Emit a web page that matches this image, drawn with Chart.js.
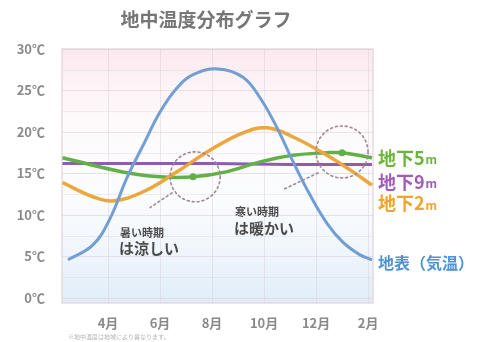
<!DOCTYPE html>
<html lang="ja">
<head>
<meta charset="utf-8">
<title>地中温度分布グラフ</title>
<script src="https://cdn.jsdelivr.net/npm/chart.js@4.4.1/dist/chart.umd.min.js"></script>
<style>
  html, body { margin: 0; padding: 0; background: #ffffff; }
  #wrap { width: 480px; height: 342px; position: relative; }
</style>
</head>
<body>
<div id="wrap"><canvas id="chart" width="480" height="342"></canvas></div>
<script>
// Month axis: 4 = April ... 12 = December, 14 = February of the next year
const monthTicks = [4, 6, 8, 10, 12, 14];
const monthLabels = ['4月', '6月', '8月', '10月', '12月', '2月'];
const tempTicks = [0, 5, 10, 15, 20, 25, 30];

// Surface (air) temperature, °C
const airMonth = [2.46, 3.42, 4.08, 4.73, 5.35, 6.0, 6.65, 7.27, 8.23, 9.19, 9.85, 10.5, 11.12, 11.77, 12.42, 13.04, 13.69, 14.15];
const airTemp  = [4.6, 6.4, 9.6, 14.5, 18.4, 22.4, 25.3, 26.9, 27.6, 26.6, 24.1, 20.5, 16.4, 12.4, 9.0, 6.7, 5.2, 4.6];

// 2 m below ground
const depth2Month = [2.25, 3.42, 4.19, 5.35, 6.65, 7.92, 9.19, 10.12, 11.12, 12.42, 13.42, 14.15];
const depth2Temp  = [13.9, 12.2, 11.7, 12.8, 15.2, 17.8, 19.9, 20.5, 19.4, 17.2, 15.2, 13.6];

// 5 m below ground
const depth5Month = [2.25, 3.42, 4.73, 6.0, 7.27, 8.54, 9.85, 11.12, 12.42, 13.0, 14.15];
const depth5Temp  = [16.9, 16.0, 15.1, 14.6, 14.6, 15.2, 16.4, 17.2, 17.5, 17.5, 16.9];
const depth5Markers = [7.27, 13.0];

// 9 m below ground
const depth9Month = [2.25, 5.0, 8.0, 11.0, 14.15];
const depth9Temp  = [16.2, 16.2, 16.2, 16.1, 16.1];

const COLORS = {
  air: '#719fd5',
  d2: '#eba63c',
  d5: '#62b046',
  d9: '#925cae',
  text: '#8a8a8a',
  note: '#4d4d4d'
};

const JP = '"Noto Sans CJK JP", "Noto Sans", sans-serif';

function points(xs, ys) {
  return xs.map((x, i) => ({ x: x, y: ys[i] }));
}

// Pale pink-to-blue backdrop of the plot area, half-step rules and frame
const backdrop = {
  id: 'backdrop',
  beforeDraw(chart) {
    const { ctx, chartArea: a } = chart;
    const ys = chart.scales.y;
    ctx.save();
    const g = ctx.createLinearGradient(0, a.top, 0, a.bottom);
    g.addColorStop(0.00, '#fbe8ef');
    g.addColorStop(0.12, '#fcf2f6');
    g.addColorStop(0.30, '#fefafc');
    g.addColorStop(0.60, '#fafcfe');
    g.addColorStop(0.82, '#eef5fb');
    g.addColorStop(1.00, '#e0edf8');
    ctx.fillStyle = g;
    ctx.fillRect(a.left, a.top, a.right - a.left, a.bottom - a.top);
    ctx.strokeStyle = 'rgba(215, 205, 215, 0.35)';
    ctx.lineWidth = 1;
    for (let t = 2.5; t < 30; t += 5) {
      const y = Math.round(ys.getPixelForValue(t)) + 0.5;
      ctx.beginPath(); ctx.moveTo(a.left, y); ctx.lineTo(a.right, y); ctx.stroke();
    }
    ctx.strokeStyle = '#e6dade';
    ctx.lineWidth = 1.5;
    ctx.strokeRect(a.left, a.top, a.right - a.left, a.bottom - a.top);
    ctx.restore();
  }
};

// Title, callouts, series names and footnote
const annotations = {
  id: 'annotations',
  afterDraw(chart) {
    const { ctx, chartArea: a } = chart;
    const xs = chart.scales.x, ys = chart.scales.y;
    const px = v => xs.getPixelForValue(v);
    const py = v => ys.getPixelForValue(v);
    ctx.save();

    // title
    ctx.fillStyle = '#767676';
    ctx.font = 'bold 19px ' + JP;
    ctx.textAlign = 'center';
    ctx.textBaseline = 'middle';
    ctx.fillText('地中温度分布グラフ', 206, 20);

    // dotted callout circles around the 5 m extremes
    ctx.strokeStyle = '#a08a92';
    ctx.lineWidth = 1.6;
    ctx.setLineDash([2, 3]);
    ctx.lineCap = 'round';
    const c1 = { x: px(7.35), y: py(14.6) };
    const c2 = { x: px(13.0), y: py(17.6) };
    ctx.beginPath(); ctx.arc(c1.x, c1.y, 25, 0, Math.PI * 2); ctx.stroke();
    ctx.beginPath(); ctx.arc(c2.x, c2.y, 26, 0, Math.PI * 2); ctx.stroke();
    ctx.beginPath();
    ctx.moveTo(c1.x - 23, c1.y + 16);
    ctx.lineTo(px(5.62), py(10.9));
    ctx.stroke();
    ctx.beginPath();
    ctx.moveTo(c2.x - 24, c2.y + 21);
    ctx.lineTo(px(10.69), py(13.0));
    ctx.stroke();
    ctx.setLineDash([]);

    // callout notes
    ctx.fillStyle = COLORS.note;
    ctx.textAlign = 'left';
    ctx.textBaseline = 'middle';
    ctx.font = 'bold 11px ' + JP;
    ctx.fillText('暑い時期', 120, 233);
    ctx.font = 'bold 15px ' + JP;
    ctx.fillText('は涼しい', 119, 248);
    ctx.font = 'bold 11px ' + JP;
    ctx.fillText('寒い時期', 235, 212);
    ctx.font = 'bold 15px ' + JP;
    ctx.fillText('は暖かい', 234, 228);

    // series names at the right edge
    const lx = a.right + 5;
    function depthLabel(num, color, t) {
      const y = py(t);
      ctx.fillStyle = color;
      ctx.font = 'bold 18px ' + JP;
      const s = '地下' + num;
      ctx.fillText(s, lx, y);
      const w = ctx.measureText(s).width;
      ctx.font = 'bold 12px ' + JP;
      ctx.fillText('m', lx + w + 1, y + 2);
    }
    depthLabel('5', '#6cb43c', 16.9);
    depthLabel('9', '#a05cb8', 14.0);
    depthLabel('2', '#f0a32e', 11.4);
    ctx.fillStyle = '#4d92d4';
    ctx.font = 'bold 16px ' + JP;
    ctx.fillText('地表（気温）', lx, py(4.2));

    // footnote
    ctx.fillStyle = '#b5b5b5';
    ctx.font = '6px ' + JP;
    ctx.fillText('※地中温度は地域により異なります。', 68, 337);
    ctx.restore();
  }
};

new Chart(document.getElementById('chart'), {
  type: 'line',
  data: {
    datasets: [
      {
        label: '地表（気温）',
        data: points(airMonth, airTemp),
        borderColor: COLORS.air,
        borderWidth: 3,
        pointRadius: 0,
        tension: 0.4
      },
      {
        label: '地下2m',
        data: points(depth2Month, depth2Temp),
        borderColor: COLORS.d2,
        borderWidth: 3.5,
        pointRadius: 0,
        tension: 0.4
      },
      {
        label: '地下5m',
        data: points(depth5Month, depth5Temp),
        borderColor: COLORS.d5,
        backgroundColor: COLORS.d5,
        borderWidth: 3.5,
        pointRadius: depth5Month.map(m => depth5Markers.includes(m) ? 3.5 : 0),
        pointBorderWidth: 0,
        tension: 0.4
      },
      {
        label: '地下9m',
        data: points(depth9Month, depth9Temp),
        borderColor: COLORS.d9,
        borderWidth: 3,
        pointRadius: 0,
        tension: 0.4
      }
    ]
  },
  options: {
    responsive: false,
    devicePixelRatio: 1,
    animation: false,
    layout: { padding: { top: 49, right: 107, left: 0, bottom: 0 } },
    plugins: {
      legend: { display: false },
      tooltip: { enabled: false },
      title: { display: false }
    },
    scales: {
      x: {
        type: 'linear',
        min: 2.23,
        max: 14.19,
        afterBuildTicks: s => { s.ticks = monthTicks.map(v => ({ value: v })); },
        afterFit: s => { s.height = 39; },
        grid: { color: 'rgba(215, 205, 212, 0.45)', lineWidth: 1, drawTicks: false },
        border: { display: false },
        ticks: {
          padding: 12,
          color: COLORS.text,
          font: { family: JP, size: 13, weight: 'bold' },
          callback: v => monthLabels[monthTicks.indexOf(v)]
        }
      },
      y: {
        type: 'linear',
        min: -0.6,
        max: 30,
        afterBuildTicks: s => { s.ticks = tempTicks.map(v => ({ value: v })); },
        afterFit: s => { s.width = 62; },
        grid: { color: 'rgba(215, 205, 212, 0.55)', lineWidth: 1, drawTicks: false },
        border: { display: false },
        ticks: {
          padding: 17,
          color: COLORS.text,
          font: { family: JP, size: 13, weight: 'bold' },
          callback: v => v + '℃'
        }
      }
    }
  },
  plugins: [backdrop, annotations]
});
</script>
</body>
</html>
